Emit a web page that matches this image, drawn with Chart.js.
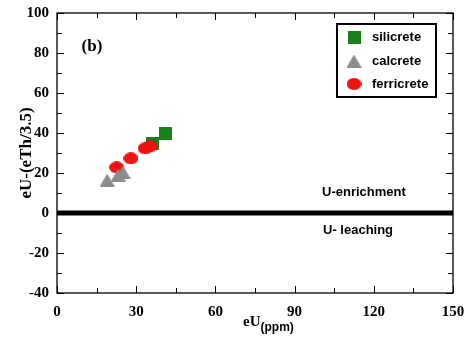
<!DOCTYPE html>
<html><head><meta charset="utf-8">
<script src="https://cdn.jsdelivr.net/npm/chart.js@4"></script>
<style>html,body{margin:0;padding:0;background:#fff}canvas{display:block}</style>
</head><body>
<canvas id="c" width="465" height="337"></canvas>
<script>
// ---- data ----
const seriesNames = ['silicrete', 'calcrete', 'ferricrete'];
const siliX = [36, 41];
const siliY = [35, 40];
const calcX = [19, 23.2, 25];
const calcY = [16.5, 19, 20.5];
const ferrX = [22.6, 28, 33.4, 35.2];
const ferrY = [22.8, 27.3, 32.3, 33.3];
const baseX = [0, 150];
const baseY = [0, 0];
const xTicks = [0, 30, 60, 90, 120, 150];
const yTicks = [-40, -20, 0, 20, 40, 60, 80, 100];
const panelLabel = '(b)';
const zoneLabels = ['U-enrichment', 'U- leaching'];
const xTitle = ['eU', '(ppm)'];
const yTitle = 'eU-(eTh/3.5)';

// ---- marker images ----
function mk(w, h, draw) { const c = document.createElement('canvas'); c.width = w; c.height = h; draw(c.getContext('2d'), w, h); return c; }
const sqImg = mk(13, 13, (g, w, h) => { g.fillStyle = '#17801a'; g.fillRect(0, 0, w, h); });
const triImg = mk(15, 13, (g, w, h) => { g.fillStyle = '#8c8c8c'; g.beginPath(); g.moveTo(w / 2, 0); g.lineTo(w, h); g.lineTo(0, h); g.closePath(); g.fill(); });
const ellImg = mk(15, 12, (g, w, h) => { g.fillStyle = '#ee1212'; g.beginPath(); g.ellipse(w / 2, h / 2, w / 2, h / 2, 0, 0, Math.PI * 2); g.fill(); });
const markers = [sqImg, triImg, ellImg];

const pts = (xs, ys) => xs.map((x, i) => ({ x, y: ys[i] }));

const decor = {
  id: 'decor',
  afterDatasetsDraw(chart) {
    const { ctx, chartArea: a, scales: { x, y } } = chart;
    ctx.save();
    ctx.strokeStyle = '#000';
    ctx.lineWidth = 1.3;
    ctx.strokeRect(a.left, a.top, a.right - a.left, a.bottom - a.top);
    ctx.lineWidth = 1;
    ctx.beginPath();
    for (let v = x.min; v <= x.max + 1e-6; v += 15) {
      const px = Math.round(x.getPixelForValue(v)) + 0.5;
      const len = (v % 30 === 0) ? 7 : 5;
      ctx.moveTo(px, a.bottom); ctx.lineTo(px, a.bottom - len);
      ctx.moveTo(px, a.top); ctx.lineTo(px, a.top + len);
    }
    for (let v = y.min; v <= y.max + 1e-6; v += 10) {
      const py = Math.round(y.getPixelForValue(v)) + 0.5;
      const len = (v % 20 === 0) ? 7 : 5;
      ctx.moveTo(a.left, py); ctx.lineTo(a.left + len, py);
      ctx.moveTo(a.right, py); ctx.lineTo(a.right - len, py);
    }
    ctx.stroke();
    ctx.restore();
  },
  afterDraw(chart) {
    const { ctx } = chart;
    ctx.save();
    ctx.fillStyle = '#000';
    // panel label
    ctx.font = 'bold 17px "Liberation Serif"';
    ctx.textAlign = 'center'; ctx.textBaseline = 'middle';
    ctx.fillText(panelLabel, 92, 47);
    // zone labels
    ctx.font = 'bold 13px "Liberation Sans"';
    ctx.textAlign = 'left';
    ctx.fillText(zoneLabels[0], 322, 192);
    ctx.fillText(zoneLabels[1], 323, 230);
    // x title with subscript
    ctx.font = 'bold 15px "Liberation Serif"';
    ctx.textBaseline = 'alphabetic';
    ctx.fillText(xTitle[0], 243, 326);
    const w0 = ctx.measureText(xTitle[0]).width;
    ctx.font = 'bold 12px "Liberation Sans"';
    ctx.fillText(xTitle[1], 243 + w0, 331);
    // legend box
    ctx.lineWidth = 2;
    ctx.strokeStyle = '#000';
    ctx.strokeRect(337, 24, 99, 73);
    const rows = [37, 61, 84];
    ctx.font = 'bold 13px "Liberation Sans"';
    ctx.textBaseline = 'middle';
    chart.data.datasets.filter(d => d.legendRow !== undefined).forEach(d => {
      const img = d.pointStyle, yy = rows[d.legendRow];
      ctx.drawImage(img, 354 - img.width / 2, yy - img.height / 2);
      ctx.fillText(d.label, 372, yy);
    });
    ctx.restore();
  }
};

new Chart(document.getElementById('c'), {
  type: 'scatter',
  data: {
    datasets: [
      { label: seriesNames[0], data: pts(siliX, siliY), pointStyle: markers[0], pointRadius: 7, order: 3, legendRow: 0 },
      { label: seriesNames[2], data: pts(ferrX, ferrY), pointStyle: markers[2], pointRadius: 7, order: 2, legendRow: 2 },
      { label: seriesNames[1], data: pts(calcX, calcY), pointStyle: markers[1], pointRadius: 7, order: 1, legendRow: 1 },
      { label: 'boundary', data: pts(baseX, baseY), showLine: true, borderColor: '#000', borderWidth: 5, pointRadius: 0, order: 4 }
    ]
  },
  options: {
    responsive: false,
    animation: false,
    events: [],
    layout: { padding: { top: 13, right: 12, left: 0, bottom: 0 } },
    plugins: { legend: { display: false }, tooltip: { enabled: false } },
    scales: {
      x: {
        type: 'linear', min: 0, max: 150,
        afterBuildTicks: s => { s.ticks = xTicks.map(v => ({ value: v })); },
        afterFit: s => { s.height = 44; s.paddingLeft = 0; s.paddingRight = 0; },
        grid: { display: false, drawTicks: false },
        border: { display: false },
        ticks: { color: '#000', padding: 10, maxRotation: 0, font: { family: 'Liberation Serif', weight: 'bold', size: 15 } }
      },
      y: {
        type: 'linear', min: -40, max: 100,
        afterBuildTicks: s => { s.ticks = yTicks.map(v => ({ value: v })); },
        afterFit: s => { s.width = 57; s.paddingTop = 0; s.paddingBottom = 0; },
        grid: { display: false, drawTicks: false },
        border: { display: false },
        title: { display: true, text: yTitle, color: '#000', padding: { top: 16, bottom: 0 }, font: { family: 'Liberation Serif', weight: 'bold', size: 17 } },
        ticks: { color: '#000', padding: 8, font: { family: 'Liberation Serif', weight: 'bold', size: 15 } }
      }
    }
  },
  plugins: [decor]
});
</script>
</body></html>
